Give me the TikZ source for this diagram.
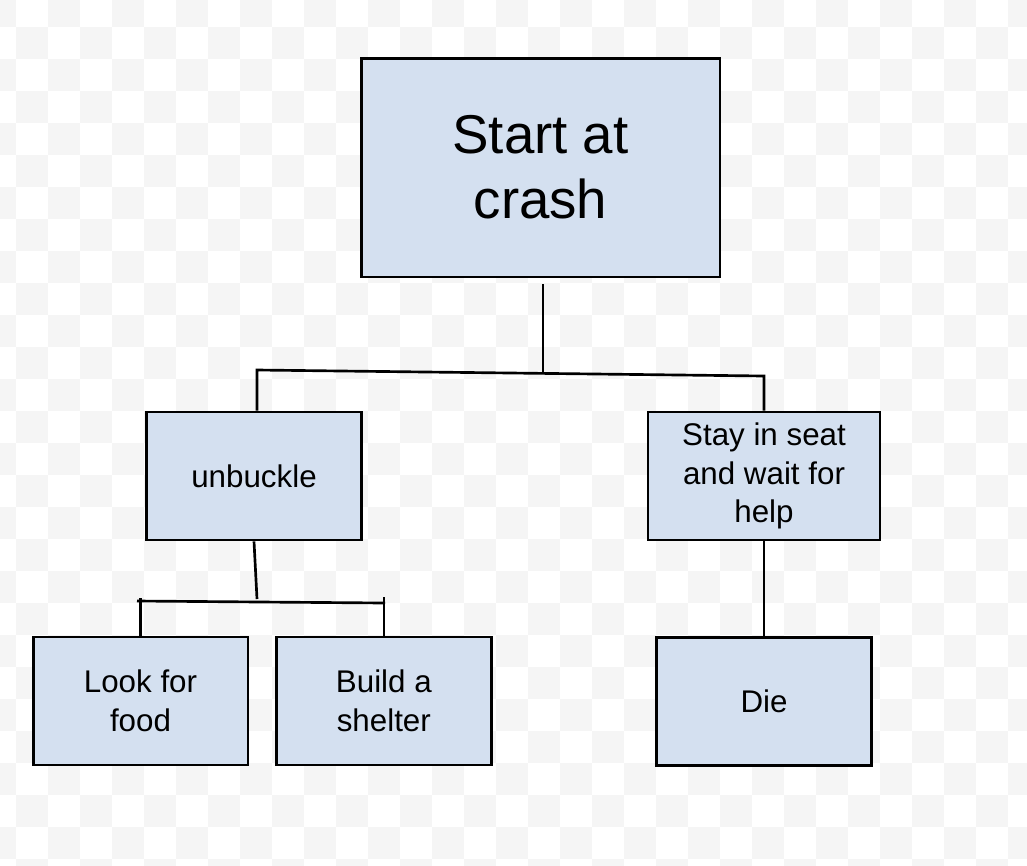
\documentclass[tikz,border=0pt]{standalone}
\usepackage{xcolor}
\usepackage{fontspec}
\setmainfont{Liberation Sans}
\usepackage{tikz}
\usetikzlibrary{positioning}

\definecolor{boxblue}{HTML}{D4E0F0}
\definecolor{checkgray}{HTML}{F5F5F5}

\begin{document}
\begin{tikzpicture}[x=0.75pt, y=-0.75pt,
    box/.style={rectangle, draw, line width=2pt, fill=boxblue, align=center, inner sep=0pt, minimum width=161pt, minimum height=96pt, font=\fontsize{23.5}{29}\selectfont},
    link/.style={line width=2pt}]
    \useasboundingbox (0,0) rectangle (1027,865);

    % checkered backdrop
    \begin{scope}
        \clip (0,0) rectangle (1027,865);
        \fill[white] (0,0) rectangle (1027,865);
        \foreach \i in {0,2,...,32} \foreach \j in {0,2,...,26}
            {\fill[checkgray] (\i*32-16,\j*32-5) rectangle ++(32,32);}
        \foreach \i in {1,3,...,31} \foreach \j in {1,3,...,27}
            {\fill[checkgray] (\i*32-16,\j*32-5) rectangle ++(32,32);}
    \end{scope}

    \node (start) [box, minimum width=269pt, minimum height=164pt, font=\fontsize{41}{48.5}\selectfont] at (540.5,167.5) {Start at\\crash};
    \node (unbuckle) [box] at (254,476) {unbuckle};
    \node (stay) [box, minimum width=174pt] at (764,476) {Stay in seat\\and wait for\\help};
    \node (food) [box] at (140.5,701) {Look for\\food};
    \node (shelter) [box, right=19.5pt of food] {Build a\\shelter};
    \node (die) [box, below=71pt of stay] {Die};

    \coordinate (startout) at (543,284);
    \coordinate (splitL) at (257,370);
    \coordinate (splitM) at (543,373);
    \coordinate (splitR) at (764,376);
    \coordinate (subM) at (257,599);
    \coordinate (subL) at (137,601);
    \coordinate (subR) at (385,603);

    \draw [link] (startout) -- (splitM);
    \draw [link] (splitL |- unbuckle.north) -- (splitL) -- (splitR) -- (stay.north);
    \draw [link] (unbuckle.south) -- (subM);
    \draw [link] (subL) -- (subR);
    \draw [link] (food.north) -- ++(0,-38);
    \draw [link] (shelter.north) -- ++(0,-39);
    \draw [link] (stay.south) -- (die.north);
\end{tikzpicture}
\end{document}
